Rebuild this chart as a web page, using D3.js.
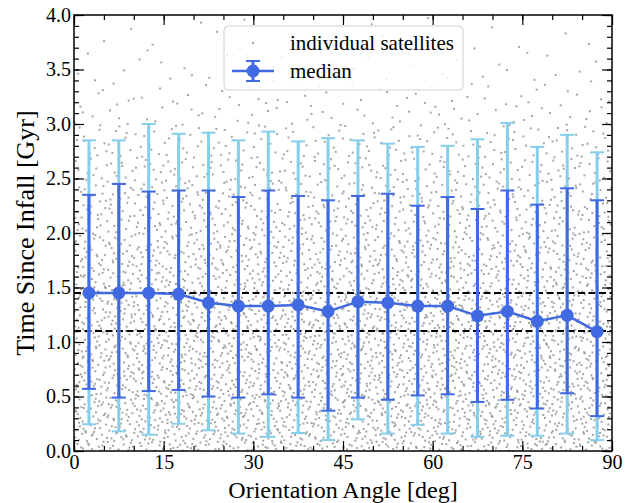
<!DOCTYPE html>
<html>
<head>
<meta charset="utf-8">
<script src="https://cdn.jsdelivr.net/npm/d3@7"></script>
<style>
  body { margin: 0; background: #fff; }
  svg { display: block; }
</style>
</head>
<body>
<div id="chart"></div>
<script>
// bin centres of orientation angle (deg)
var angles = [2.5, 7.5, 12.5, 17.5, 22.5, 27.5, 32.5, 37.5, 42.5, 47.5, 52.5, 57.5, 62.5, 67.5, 72.5, 77.5, 82.5, 87.5];
// median time since infall per bin (Gyr)
var medians = [1.45, 1.45, 1.45, 1.44, 1.36, 1.33, 1.33, 1.34, 1.28, 1.37, 1.36, 1.33, 1.33, 1.24, 1.28, 1.19, 1.245, 1.095];
// inner (dark) error range
var innerLo = [0.57, 0.49, 0.55, 0.56, 0.50, 0.49, 0.52, 0.49, 0.37, 0.49, 0.47, 0.51, 0.52, 0.45, 0.47, 0.39, 0.53, 0.32];
var innerHi = [2.35, 2.45, 2.38, 2.39, 2.39, 2.33, 2.39, 2.34, 2.30, 2.34, 2.36, 2.25, 2.33, 2.22, 2.39, 2.26, 2.41, 2.30];
// outer (light) error range
var outerLo = [0.245, 0.18, 0.15, 0.25, 0.19, 0.16, 0.13, 0.165, 0.10, 0.29, 0.16, 0.24, 0.16, 0.13, 0.14, 0.14, 0.16, 0.10];
var outerHi = [2.85, 2.85, 3.00, 2.91, 2.92, 2.85, 2.93, 2.84, 2.87, 2.85, 2.82, 2.79, 2.80, 2.86, 3.01, 2.79, 2.90, 2.74];
// reference lines (first and last bin median)
var refLines = [1.45, 1.10];
// rough count of individual satellites per 0.25 Gyr band, read off the point density
var bandEdges = [0, 0.25, 0.5, 0.75, 1.0, 1.25, 1.5, 1.75, 2.0, 2.25, 2.5, 2.75, 3.0, 3.25, 3.5, 3.75, 4.0];
var bandCounts = [480, 480, 470, 460, 440, 420, 380, 330, 280, 230, 180, 130, 75, 45, 25, 12];
var xTicks = [0, 15, 30, 45, 60, 75, 90];
var yTicks = [0, 0.5, 1, 1.5, 2, 2.5, 3, 3.5, 4];

var W = 635, H = 503,
	margin = {top: 15, right: 23, bottom: 52, left: 74},
	w = W - margin.left - margin.right,
	h = H - margin.top - margin.bottom,
	serif = '"Liberation Serif", "Times New Roman", Tinos, serif';

var x = d3.scaleLinear().domain([0, 90]).range([0, w]);
var y = d3.scaleLinear().domain([0, 4]).range([h, 0]);

var svg = d3.select('#chart').append('svg')
	.attr('width', W)
	.attr('height', H)
	.style('font-family', serif);

svg.append('defs').append('clipPath').attr('id', 'clip')
	.append('rect').attr('width', w).attr('height', h);

var g = svg.append('g').attr('transform', 'translate(' + margin.left + ',' + margin.top + ')');
var plot = g.append('g').attr('clip-path', 'url(#clip)');

// halton sequence spreads the points evenly; the vertical coordinate is
// mapped through the cumulative band counts so the density follows the picture
function halton(i, b) {
	var f = 1, r = 0;
	while (i > 0) { f = f / b; r += f * (i % b); i = Math.floor(i / b); }
	return r;
}
var total = d3.sum(bandCounts),
	cum = [0];
bandCounts.forEach(function(n, j) { cum.push(cum[j] + n); });

var sats = d3.range(1, total + 1).map(function(k) {
	var v = halton(k, 3) * total,
		j = Math.min(d3.bisectRight(cum, v) - 1, bandCounts.length - 1);
	return {
		a: 90 * halton(k, 2),
		t: bandEdges[j] + (bandEdges[j + 1] - bandEdges[j]) * (v - cum[j]) / bandCounts[j]
	};
});

plot.selectAll('rect.sat')
	.data(sats)
	.enter().append('rect')
	.attr('class', 'sat')
	.attr('x', function(d) { return x(d.a) - 1; })
	.attr('y', function(d) { return y(d.t) - 1; })
	.attr('width', 2)
	.attr('height', 2)
	.style('fill', '#808080')
	.style('opacity', 0.7);

// dashed reference lines
plot.selectAll('line.ref')
	.data(refLines)
	.enter().append('line')
	.attr('class', 'ref')
	.attr('x1', 0).attr('x2', w)
	.attr('y1', function(d) { return y(d); })
	.attr('y2', function(d) { return y(d); })
	.style('stroke', '#000')
	.style('stroke-width', 2)
	.style('stroke-dasharray', '7,3.5');

var bins = angles.map(function(a, i) {
	return {a: a, m: medians[i], lo: innerLo[i], hi: innerHi[i], olo: outerLo[i], ohi: outerHi[i]};
});

function errorBars(cls, lo, hi, color) {
	var eb = plot.selectAll('g.' + cls).data(bins).enter().append('g').attr('class', cls);
	eb.append('line')
		.attr('x1', function(d) { return x(d.a); })
		.attr('x2', function(d) { return x(d.a); })
		.attr('y1', function(d) { return y(d[lo]); })
		.attr('y2', function(d) { return y(d[hi]); })
		.style('stroke', color).style('stroke-width', 3);
	[lo, hi].forEach(function(key) {
		eb.append('line')
			.attr('x1', function(d) { return x(d.a) - 7; })
			.attr('x2', function(d) { return x(d.a) + 7; })
			.attr('y1', function(d) { return y(d[key]); })
			.attr('y2', function(d) { return y(d[key]); })
			.style('stroke', color).style('stroke-width', 2);
	});
}
errorBars('outer', 'olo', 'ohi', '#87ceeb');
errorBars('inner', 'lo', 'hi', '#4169e1');

plot.append('path')
	.datum(bins)
	.attr('d', d3.line().x(function(d) { return x(d.a); }).y(function(d) { return y(d.m); }))
	.style('fill', 'none')
	.style('stroke', '#4169e1')
	.style('stroke-width', 2.5);

plot.selectAll('circle.med')
	.data(bins)
	.enter().append('circle')
	.attr('class', 'med')
	.attr('cx', function(d) { return x(d.a); })
	.attr('cy', function(d) { return y(d.m); })
	.attr('r', 6.5)
	.style('fill', '#4169e1');

// axes, ticks pointing inward on all sides
function styleAxis(sel) {
	sel.attr('font-family', null).style('font-family', serif);
	sel.select('.domain').remove();
	sel.selectAll('line').style('stroke', '#000').style('stroke-width', 1.2);
	sel.selectAll('text').style('font-size', '20px').style('fill', '#000').style('font-family', serif);
}
var minorX = d3.range(0, 91, 5), minorY = d3.range(0, 4.01, 0.1);

g.append('g').attr('transform', 'translate(0,' + h + ')')
	.call(d3.axisBottom(x).tickValues(xTicks).tickFormat(d3.format('d')).tickSizeInner(-10).tickSizeOuter(0).tickPadding(4))
	.call(styleAxis);
g.append('g').attr('transform', 'translate(0,' + h + ')')
	.call(d3.axisBottom(x).tickValues(minorX).tickFormat('').tickSizeInner(-5).tickSizeOuter(0))
	.call(styleAxis);
g.append('g')
	.call(d3.axisTop(x).tickValues(xTicks).tickFormat('').tickSizeInner(-10).tickSizeOuter(0))
	.call(styleAxis);
g.append('g')
	.call(d3.axisTop(x).tickValues(minorX).tickFormat('').tickSizeInner(-5).tickSizeOuter(0))
	.call(styleAxis);
g.append('g')
	.call(d3.axisLeft(y).tickValues(yTicks).tickFormat(d3.format('.1f')).tickSizeInner(-10).tickSizeOuter(0).tickPadding(3))
	.call(styleAxis);
g.append('g')
	.call(d3.axisLeft(y).tickValues(minorY).tickFormat('').tickSizeInner(-5).tickSizeOuter(0))
	.call(styleAxis);
g.append('g').attr('transform', 'translate(' + w + ',0)')
	.call(d3.axisRight(y).tickValues(yTicks).tickFormat('').tickSizeInner(-10).tickSizeOuter(0))
	.call(styleAxis);
g.append('g').attr('transform', 'translate(' + w + ',0)')
	.call(d3.axisRight(y).tickValues(minorY).tickFormat('').tickSizeInner(-5).tickSizeOuter(0))
	.call(styleAxis);

g.append('rect')
	.attr('width', w).attr('height', h)
	.style('fill', 'none').style('stroke', '#000').style('stroke-width', 1.5);

// axis labels
g.append('text')
	.attr('x', w / 2).attr('y', h + 47)
	.attr('text-anchor', 'middle')
	.style('font-family', serif)
	.style('font-size', '24px')
	.text('Orientation Angle [deg]');
g.append('text')
	.attr('transform', 'translate(' + (-40) + ',' + (h / 2) + ') rotate(-90)')
	.attr('text-anchor', 'middle')
	.style('font-family', serif)
	.style('font-size', '26px')
	.text('Time Since Infall [Gyr]');

// legend
var lg = g.append('g').attr('transform', 'translate(' + (224 - margin.left) + ',' + (26 - margin.top) + ')');
lg.append('rect')
	.attr('width', 239).attr('height', 64).attr('rx', 4)
	.style('fill', '#fff').style('fill-opacity', 0.8)
	.style('stroke', '#d0d0d0').style('stroke-width', 1);
lg.append('rect').attr('x', 28).attr('y', 16).attr('width', 2).attr('height', 2).style('fill', '#808080').style('opacity', 0.7);
lg.append('text').attr('x', 66).attr('y', 24).style('font-family', serif).style('font-size', '21px').text('individual satellites');
lg.append('line').attr('x1', 8).attr('x2', 50).attr('y1', 45).attr('y2', 45)
	.style('stroke', '#4169e1').style('stroke-width', 2.5);
lg.append('line').attr('x1', 29).attr('x2', 29).attr('y1', 35).attr('y2', 55)
	.style('stroke', '#4169e1').style('stroke-width', 3);
[35, 55].forEach(function(cy) {
	lg.append('line').attr('x1', 22).attr('x2', 36).attr('y1', cy).attr('y2', cy)
		.style('stroke', '#4169e1').style('stroke-width', 2);
});
lg.append('circle').attr('cx', 29).attr('cy', 45).attr('r', 6.5).style('fill', '#4169e1');
lg.append('text').attr('x', 66).attr('y', 52).style('font-family', serif).style('font-size', '21px').text('median');
</script>
</body>
</html>
